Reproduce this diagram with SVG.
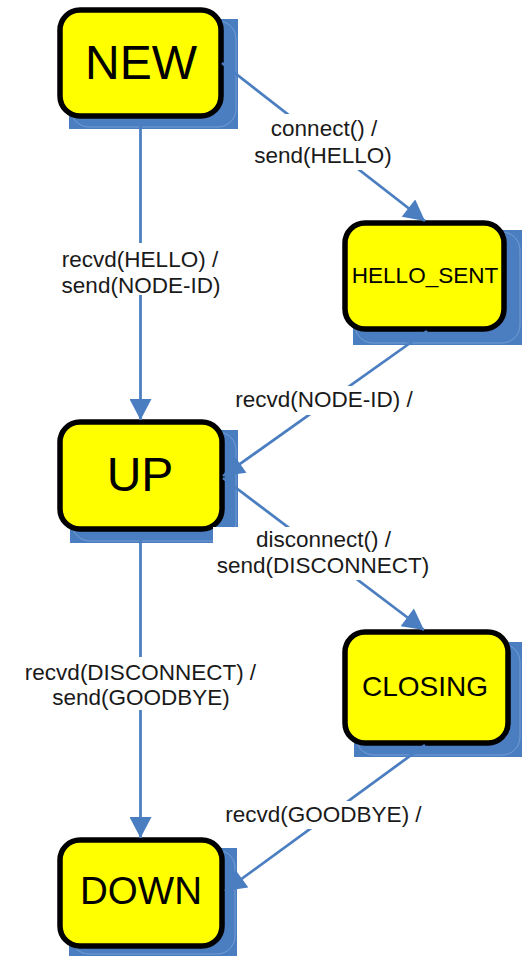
<svg xmlns="http://www.w3.org/2000/svg" width="523" height="956" viewBox="0 0 523 956">
<style>
.shadow{fill:#4A7EC1}
.shadow-edge{fill:none;stroke:#8FB0DE;stroke-width:1;opacity:0.6}
.box{fill:#FFFF00;stroke:#000;stroke-width:5.5}
.ntext{font-family:"Liberation Sans",Arial,sans-serif;fill:#000;text-anchor:middle}
.conn{stroke:#4A7EC1;stroke-width:2.75;fill:none;marker-end:url(#arrow)}
.lbg{fill:#fff}
.ltext{font-family:"Liberation Sans",Arial,sans-serif;font-size:22.5px;fill:#1a1a1a;text-anchor:middle}
</style>
<defs>
<marker id="arrow" markerUnits="userSpaceOnUse" markerWidth="22" markerHeight="22" viewBox="0 0 20 21" refX="20" refY="10.5" orient="auto">
<path d="M0,0 L20,10.5 L0,21 z" fill="#4A7EC1"/>
</marker>
</defs>
<rect width="523" height="956" fill="#fff"/>
<g id="node-new">
<rect class="shadow" x="69" y="19" width="169" height="110"/>
<rect class="shadow-edge" x="71" y="21" width="165" height="106" rx="18"/>
<rect class="box" x="60" y="10" width="161" height="106" rx="20"/>
<text class="ntext" x="141" y="79" font-size="48">NEW</text>
</g>
<g id="node-hello-sent">
<rect class="shadow" x="353" y="230" width="169" height="115"/>
<rect class="shadow-edge" x="355" y="232" width="165" height="111" rx="18"/>
<rect class="box" x="345" y="223" width="159" height="106" rx="20"/>
<text class="ntext" x="425" y="283" font-size="22.5">HELLO_SENT</text>
</g>
<g id="node-up">
<rect class="shadow" x="70" y="430" width="168" height="113"/>
<rect class="shadow-edge" x="72" y="432" width="164" height="109" rx="18"/>
<rect class="box" x="60" y="422" width="162" height="107" rx="20"/>
<text class="ntext" x="140" y="491" font-size="48">UP</text>
</g>
<g id="node-closing">
<rect class="shadow" x="354" y="642" width="168" height="115"/>
<rect class="shadow-edge" x="356" y="644" width="164" height="111" rx="18"/>
<rect class="box" x="345" y="632" width="163" height="111" rx="20"/>
<text class="ntext" x="425" y="696" font-size="28">CLOSING</text>
</g>
<g id="node-down">
<rect class="shadow" x="69" y="848" width="168" height="108"/>
<rect class="shadow-edge" x="71" y="850" width="164" height="104" rx="18"/>
<rect class="box" x="60" y="840" width="162" height="106" rx="20"/>
<text class="ntext" x="141" y="904" font-size="38.5">DOWN</text>
</g>
<g id="connectors">
<line class="conn" x1="140.5" y1="119" x2="140.5" y2="420"/>
<line class="conn" x1="222" y1="63" x2="425" y2="221"/>
<line class="conn" x1="427" y1="331" x2="223" y2="476"/>
<line class="conn" x1="223" y1="478" x2="424" y2="630"/>
<line class="conn" x1="140.5" y1="532" x2="140.5" y2="838"/>
<line class="conn" x1="425" y1="745" x2="225" y2="891"/>
</g>
<g id="labels">
<rect class="lbg" x="250" y="114" width="147" height="56"/>
<text class="ltext" x="324" y="136">connect() /</text>
<text class="ltext" x="323" y="163">send(HELLO)</text>
<rect class="lbg" x="58" y="243" width="165" height="52"/>
<text class="ltext" x="140" y="267">recvd(HELLO) /</text>
<text class="ltext" x="141" y="293">send(NODE-ID)</text>
<rect class="lbg" x="232" y="386" width="184" height="29"/>
<text class="ltext" x="324" y="407">recvd(NODE-ID) /</text>
<rect class="lbg" x="213" y="527" width="221" height="53"/>
<text class="ltext" x="323.5" y="547">disconnect() /</text>
<text class="ltext" x="323" y="573">send(DISCONNECT)</text>
<rect class="lbg" x="20" y="657" width="242" height="53"/>
<text class="ltext" x="140.5" y="680">recvd(DISCONNECT) /</text>
<text class="ltext" x="141" y="705">send(GOODBYE)</text>
<rect class="lbg" x="222" y="801" width="203" height="28"/>
<text class="ltext" x="323.5" y="822">recvd(GOODBYE) /</text>
</g>
</svg>
